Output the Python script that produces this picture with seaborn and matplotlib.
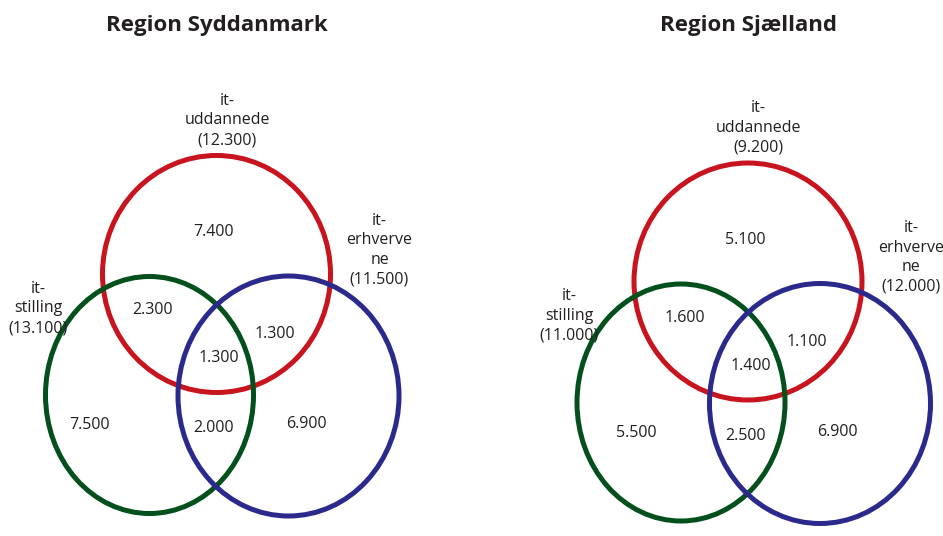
# venn_it.py
import matplotlib.pyplot as plt
import seaborn as sns
from matplotlib.patches import Ellipse

# Data
regions = ["Region Syddanmark", "Region Sjælland"]
set_names = ["it-\nuddannede", "it-\nerhverve\nne", "it-\nstilling"]
set_totals = [
    [12300, 11500, 13100],  # Syddanmark
    [9200, 12000, 11000],   # Sjælland
]
# felter: kun uddannede, uddannede+stilling, alle tre, uddannede+erhvervene,
# kun stilling, stilling+erhvervene, kun erhvervene
area_names = ["udd", "udd_still", "alle", "udd_erhv", "still", "still_erhv", "erhv"]
syd_values = [7400, 2300, 1300, 1300, 7500, 2000, 6900]
sj_values = [5100, 1600, 1400, 1100, 5500, 2500, 6900]
region_values = [syd_values, sj_values]

# Layout (pixel-enheder, relativt til centrum af den roede cirkel)
W, H = 943, 536
panel_x0 = [0, 472]
panel_w = 471
red_center_px = [(216.5, 274), (748, 281.5)]

circle_colors = ["#c8141e", "#2b2a8c", "#03501c"]   # uddannede, erhvervene, stilling
circle_geom = [(0, 0, 114, 118.5), (72, -122, 110.5, 120), (-67, -121, 104, 118.5)]
draw_order = [0, 2, 1]

name_pos = [(10.5, 153.5), (163, 24), (-178.5, -34.5)]
area_pos = [(-2.5, 42), (-63.5, -36), (2.5, -84), (58.5, -60),
            (-126.5, -151), (-2.5, -154), (89.5, -150)]
area_pos_sj = {"still": (-112, -151.5)}

text_color = "#231f20"

sns.set_theme(style="white")
plt.rcParams['font.family'] = ['Open Sans', 'DejaVu Sans']

fig = plt.figure(figsize=(W / 100, H / 100), dpi=100)


def fmt(v):
    return f"{v:,}".replace(",", ".")


for i, region in enumerate(regions):
    x0 = panel_x0[i]
    cx, cy = red_center_px[i]
    ax = fig.add_axes([x0 / W, 0, panel_w / W, 1])
    ax.set_xlim(x0 - cx, x0 + panel_w - cx)
    ax.set_ylim(cy - H, cy)
    ax.axis('off')

    # Cirkler
    for k in draw_order:
        ex, ey, rx, ry = circle_geom[k]
        ax.add_patch(Ellipse((ex, ey), 2 * rx, 2 * ry, fill=False,
                             ec=circle_colors[k], lw=3.6, zorder=2 + draw_order.index(k)))

    # Titel
    ax.annotate(region, xy=(0, 1 - 26 / H), xycoords=('data', 'figure fraction'),
                ha='center', va='center', fontsize=16, fontweight='bold', color=text_color)

    # Navne paa maengderne
    for k, name in enumerate(set_names):
        nx, ny = name_pos[k]
        ax.text(nx, ny, f"{name}\n({fmt(set_totals[i][k])})", ha='center', va='center',
                multialignment='center', fontsize=11.5, linespacing=1.3, color=text_color,
                zorder=10)

    # Tal i felterne
    for k, v in enumerate(region_values[i]):
        px, py = area_pos[k]
        if i == 1 and area_names[k] in area_pos_sj:
            px, py = area_pos_sj[area_names[k]]
        ax.text(px, py, fmt(v), ha='center', va='center', fontsize=11.5, color=text_color,
                zorder=10)

fig.savefig("out.png", dpi=100)
